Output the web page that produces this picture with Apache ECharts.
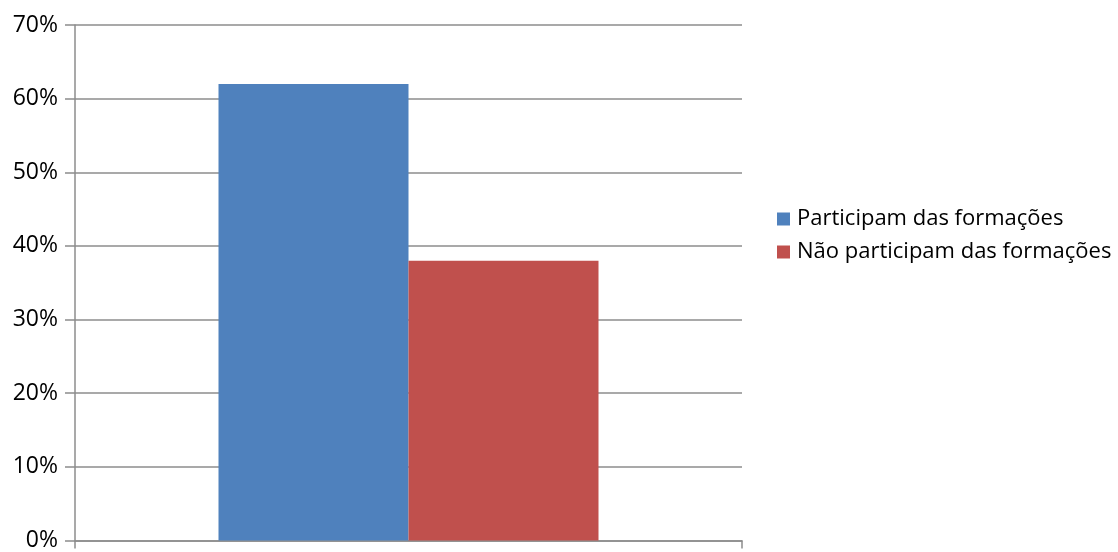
<!DOCTYPE html>
<html>
<head>
<meta charset="utf-8">
<script src="https://cdn.jsdelivr.net/npm/echarts@6/dist/echarts.min.js"></script>
<style>html,body{margin:0;padding:0;background:#fff;}#c{width:1118px;height:552px;}</style>
</head>
<body>
<div id="c"></div>
<script>
const categories = [''];
const seriesNames = ['Participam das formações', 'Não participam das formações'];
const participam = [62];
const naoParticipam = [38];
const colors = ['#4f81bd', '#c0504d'];

const chart = echarts.init(document.getElementById('c'), null, {renderer: 'canvas'});
const fontFamily = "'Open Sans', 'Liberation Sans', sans-serif";
chart.setOption({
  animation: false,
  grid: {left: 75, right: 376, top: 25, bottom: 8, containLabel: false},
  legend: {
    orient: 'vertical', left: 772, top: 203,
    itemWidth: 13, itemHeight: 13, itemGap: 11,
    icon: 'rect',
    textStyle: {fontFamily: fontFamily, fontSize: 22, lineHeight: 20, color: '#000', padding: [0,0,0,2]},
    data: seriesNames
  },
  xAxis: {
    type: 'category', data: categories,
    axisLine: {lineStyle: {color: '#8c8c8c', width: 1.5}},
    axisTick: {show: true, length: 8, lineStyle: {color: '#8c8c8c', width: 1.5}},
    axisLabel: {show: false}
  },
  yAxis: {
    type: 'value', min: 0, max: 70, interval: 10,
    axisLine: {show: true, lineStyle: {color: '#8c8c8c', width: 1.5}},
    axisTick: {show: true, length: 10, lineStyle: {color: '#8c8c8c', width: 1.5}},
    axisLabel: {formatter: '{value}%', fontFamily: fontFamily, fontSize: 23, color: '#000', margin: 17},
    splitLine: {lineStyle: {color: '#8c8c8c', width: 1.5}}
  },
  series: [
    {name: seriesNames[0], type: 'bar', data: participam, barWidth: 190, barGap: '0%', itemStyle: {color: colors[0]}},
    {name: seriesNames[1], type: 'bar', data: naoParticipam, barWidth: 190, barGap: '0%', itemStyle: {color: colors[1]}}
  ]
});
</script>
</body>
</html>
